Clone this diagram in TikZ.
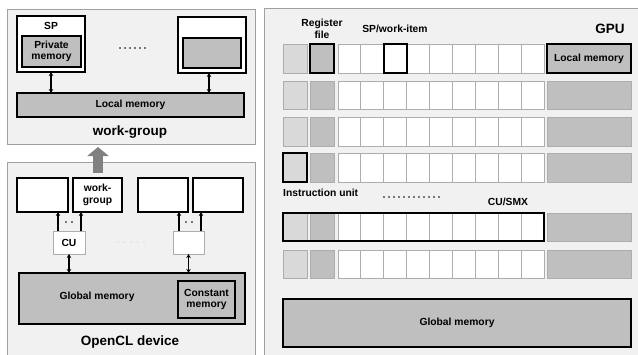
\documentclass[tikz,border=0pt]{standalone}
\usepackage{fontspec}
\setmainfont{Liberation Sans}
\usetikzlibrary{arrows.meta}
\definecolor{panelfill}{HTML}{F1F1F1}
\definecolor{panelline}{HTML}{A0A0A0}
\definecolor{memgray}{HTML}{BFBFBF}
\definecolor{lightcell}{HTML}{D9D9D9}
\definecolor{cellline}{HTML}{ADADAD}
\definecolor{bigarrow}{HTML}{808080}
\newcommand{\bx}[7][]{\node[boxbase,#1,minimum width={(#5-#3)*1pt},minimum height={(#6-#4)*1pt}] (#2) at ({(#3+#5)/2},{(#4+#6)/2}) {#7};}
\tikzset{
  boxbase/.style={inner sep=0pt,outer sep=0pt,align=center,font=\fontsize{10.3}{11.5}\selectfont\bfseries},
  panel/.style={draw=panelline,fill=panelfill,line width=1pt},
  blk/.style={draw=black,line width=1.6pt},
  thin/.style={draw=cellline,line width=1pt},
  whitebox/.style={fill=white},
  graybox/.style={fill=memgray},
  lightbox/.style={fill=lightcell},
  lbl/.style={inner sep=0pt,align=center,font=\fontsize{10.3}{11.5}\selectfont\bfseries},
  biglbl/.style={inner sep=0pt,font=\fontsize{13.5}{15}\selectfont\bfseries},
  dbl/.style={line width=1.3pt,{Stealth[length=4pt,width=4.5pt]}-{Stealth[length=4pt,width=4.5pt]}},
  sgl/.style={line width=1.3pt,-{Stealth[length=4pt,width=4.5pt]}},
  dots/.style={line width=1.7pt,line cap=round,dash pattern=on 0pt off 5pt},
}
\begin{document}
\begin{tikzpicture}[x=1pt,y=-1pt]
\useasboundingbox[fill=white] (0,0) rectangle (638,354);
% ---------- work-group panel ----------
\bx[panel]{wg}{7}{9}{255}{144}{}
\bx[blk,whitebox]{sp}{17}{16}{85}{72}{}
\node[lbl] (splbl) at (51,26) {SP};
\bx[blk,graybox]{pm}{22}{36}{81}{67}{Private\\memory}
\bx[blk,whitebox]{rb}{178}{17}{246}{73}{}
\bx[blk,graybox]{rbin}{183}{38}{241}{68}{}
\bx[blk,graybox]{lm}{17}{93}{244}{117}{Local memory}
\draw[dbl] (sp.south) -- (sp.south |- lm.north);
\draw[dbl] ([xshift=-3pt]rb.south) -- ([xshift=-3pt]rb.south |- lm.north);
\coordinate (d1a) at (120,48); \coordinate (d1b) at (148,48);
\draw[dots] (d1a) -- (d1b);
\node[biglbl] (wglbl) at (130,132) {work-group};
% ---------- OpenCL device panel ----------
\bx[panel]{ocl}{7}{162}{255}{362}{}
\coordinate (bigstart) at (98,173);
\draw[bigarrow,line width=10pt,-{Triangle[length=9pt,width=21pt]},shorten >=3pt] (bigstart) -- (bigstart |- wg.south);
\bx[blk,whitebox]{b1}{17}{178}{68}{212}{}
\bx[blk,whitebox]{b2}{73}{178}{122}{212}{work-\\group}
\bx[blk,whitebox]{b3}{138}{178}{188}{212}{}
\bx[blk,whitebox]{b4}{193}{178}{243}{212}{}
\bx[thin,whitebox]{cu1}{53}{231}{85}{254}{CU}
\bx[thin,whitebox]{cu2}{173}{231}{204}{254}{}
\draw[sgl] ([xshift=-11pt]cu1.north) -- ([xshift=-11pt]cu1.north |- b1.south);
\draw[sgl] ([xshift=12pt]cu1.north) -- ([xshift=12pt]cu1.north |- b2.south);
\draw[sgl] ([xshift=-9.5pt]cu2.north) -- ([xshift=-9.5pt]cu2.north |- b3.south);
\draw[sgl] ([xshift=12.5pt]cu2.north) -- ([xshift=12.5pt]cu2.north |- b4.south);
\coordinate (d2a) at (66,222); \coordinate (d2b) at (72.5,222);
\draw[dots,dash pattern=on 0pt off 6pt] (d2a) -- (d2b);
\coordinate (d3a) at (186,222); \coordinate (d3b) at (192.5,222);
\draw[dots,dash pattern=on 0pt off 6pt] (d3a) -- (d3b);
\coordinate (d4a) at (118,242); \coordinate (d4b) at (145,242);
\draw[dots,line width=1.4pt,draw=lightcell!80!gray,dash pattern=on 0pt off 6.5pt] (d4a) -- (d4b);
\bx[blk,graybox]{gm}{19}{273}{245}{324}{}
\node[lbl] (gmlbl) at (97,297) {Global memory};
\bx[blk,graybox]{cm}{178}{281}{235}{318}{Constant\\memory}
\draw[dbl] (cu1.south) -- (cu1.south |- gm.north);
\draw[dbl] (cu2.south) -- (cu2.south |- gm.north);
\node[biglbl] (ocllbl) at (130,342) {OpenCL device};
% ---------- GPU panel ----------
\bx[panel]{gpu}{264}{8}{642}{362}{}
\node[lbl] (rflbl) at (322,29) {Register\\file};
\node[lbl] (splbl2) at (395,29) {SP/work-item};
\node[biglbl] (gpulbl) at (610,29) {GPU};
\foreach \r/\ya/\yb in {1/44/73,2/81/109,3/117/146,4/153/182,5/213/241,6/250/278}{
  \bx[thin,lightbox]{iu\r}{283}{\ya}{307}{\yb}{}
  \bx[thin,graybox]{rf\r}{310}{\ya}{334}{\yb}{}
  \foreach \c in {0,...,8}{
    \pgfmathsetmacro\xa{338+22.9*\c}
    \pgfmathsetmacro\xb{338+22.9*(\c+1)}
    \bx[thin,whitebox]{c\r-\c}{\xa}{\ya}{\xb}{\yb}{}
  }
  \bx[thin,graybox]{loc\r}{547}{\ya}{631}{\yb}{}
}
% highlights
\draw[blk] (rf1.south west) rectangle (rf1.north east);
\draw[blk] (c1-2.south west) rectangle (c1-2.north east);
\bx[blk,graybox]{loc1h}{547}{44}{631}{73}{Local memory}
\draw[blk] (iu4.south west) rectangle (iu4.north east);
\draw[blk] (iu5.north west) rectangle (c5-8.south east);
\node[lbl,anchor=west] (iulbl) at (283,193) {Instruction unit};
\coordinate (d5a) at (384,197); \coordinate (d5b) at (440,197);
\draw[dots] (d5a) -- (d5b);
\node[lbl] (cusmx) at (508,202) {CU/SMX};
\bx[blk,graybox]{ggm}{283}{299}{631}{347}{Global memory}
\end{tikzpicture}
\end{document}
